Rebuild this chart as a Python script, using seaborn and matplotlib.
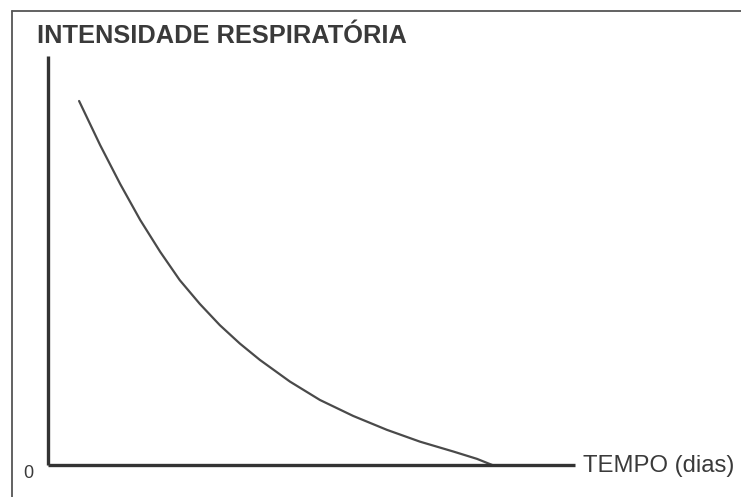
import matplotlib
matplotlib.use("Agg")
import matplotlib.pyplot as plt
from matplotlib.lines import Line2D
import pandas as pd
import seaborn as sns

# Respiratory intensity over time (arbitrary units)
tempo = [0.59, 0.99, 1.37, 1.75, 2.13, 2.50, 2.88, 3.26, 3.64, 4.02,
         4.59, 5.16, 5.79, 6.43, 7.06, 7.69, 8.14, 8.43]
intensidade = [8.90, 7.82, 6.87, 5.99, 5.21, 4.52, 3.94, 3.42, 2.97, 2.57,
               2.04, 1.59, 1.20, 0.86, 0.57, 0.33, 0.15, 0.00]

titulo = "INTENSIDADE RESPIRATÓRIA"
rotulo_x = "TEMPO (dias)"
origem = "0"

sns.set_style("white")
plt.rcParams["font.family"] = ["Liberation Sans", "DejaVu Sans"]

W, H = 741, 497
fig = plt.figure(figsize=(W / 100, H / 100), dpi=100)
fig.patch.set_facecolor("white")

# axes box: origin at (48, 465) px, x-axis to 575 px, y-axis up to 56 px
left, right, top, bottom = 48, 575, 56, 465
ax = fig.add_axes([left / W, (H - bottom) / H, (right - left) / W, (bottom - top) / H])
ax.set_facecolor("none")

df = pd.DataFrame({"tempo": tempo, "intensidade": intensidade})
sns.lineplot(data=df, x="tempo", y="intensidade", ax=ax, color="#4a4a4a",
             linewidth=1.6, sort=False, estimator=None,
             solid_joinstyle="round", solid_capstyle="round")

ax.set_xlim(0, 10)
ax.set_ylim(0, 10)
ax.set_xticks([])
ax.set_yticks([])
ax.set_xlabel("")
ax.set_ylabel("")
for s in ("top", "right"):
    ax.spines[s].set_visible(False)
for s in ("left", "bottom"):
    ax.spines[s].set_color("#333333")
    ax.spines[s].set_linewidth(2.4)
    ax.spines[s].set_capstyle("butt")

# outer frame of the figure panel (left and top edges)
fig.add_artist(Line2D([12 / W, 12 / W], [1 - 11 / H, 0], transform=fig.transFigure,
                      color="#555555", linewidth=1.3))
fig.add_artist(Line2D([12 / W, 1], [1 - 11 / H, 1 - 11 / H], transform=fig.transFigure,
                      color="#555555", linewidth=1.3))

fig.text(37 / W, 1 - 43 / H, titulo, fontsize=18.3, fontweight="bold",
         color="#3a3a3a", ha="left", va="baseline")
fig.text(583 / W, 1 - 466 / H, rotulo_x, fontsize=17.2, color="#3a3a3a",
         ha="left", va="center")
fig.text(28 / W, 1 - 474 / H, origem, fontsize=13, color="#3a3a3a",
         ha="center", va="center")

fig.savefig("out.png", dpi=100, facecolor="white")
